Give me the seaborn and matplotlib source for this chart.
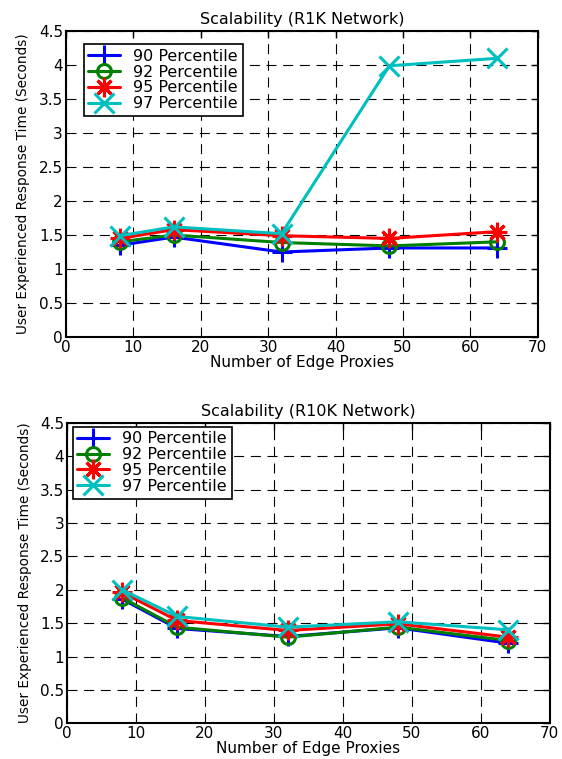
import numpy as np
import pandas as pd
import matplotlib
matplotlib.use("Agg")
import matplotlib.pyplot as plt
import seaborn as sns

# data
proxies = [8, 16, 32, 48, 64]
series_names = ["90 Percentile", "92 Percentile", "95 Percentile", "97 Percentile"]

r1k_p90 = [1.35, 1.47, 1.25, 1.31, 1.31]
r1k_p92 = [1.40, 1.50, 1.39, 1.34, 1.40]
r1k_p95 = [1.45, 1.58, 1.49, 1.45, 1.55]
r1k_p97 = [1.49, 1.62, 1.52, 3.99, 4.10]

r10k_p90 = [1.86, 1.42, 1.30, 1.43, 1.20]
r10k_p92 = [1.88, 1.44, 1.29, 1.44, 1.24]
r10k_p95 = [1.96, 1.54, 1.39, 1.49, 1.29]
r10k_p97 = [2.00, 1.60, 1.44, 1.52, 1.40]

colors = ["#0000ff", "#008000", "#ff0000", "#00bfbf"]
markers = ["+", "o", (8, 2, 0), "x"]
x_ticks = [0, 10, 20, 30, 40, 50, 60, 70]
y_ticks = [0, 0.5, 1, 1.5, 2, 2.5, 3, 3.5, 4, 4.5]
y_tick_labels = ["0", "0.5", "1", "1.5", "2", "2.5", "3", "3.5", "4", "4.5"]

sns.set_style("white")
plt.rcParams["font.family"] = ["DejaVu Sans"]
plt.rcParams["text.color"] = "black"
plt.rcParams["axes.labelcolor"] = "black"
plt.rcParams["xtick.color"] = "black"
plt.rcParams["ytick.color"] = "black"


def draw_panel(ax, values, title, legend_anchor):
    for name, vals, c, m in zip(series_names, values, colors, markers):
        df = pd.DataFrame({"x": proxies, "y": vals})
        kw = dict(color=c, marker=m, linewidth=2.2, markersize=14,
                  markeredgewidth=2.2, markeredgecolor=c, label=name)
        if m == "o":
            kw["markerfacecolor"] = "none"
            kw["markersize"] = 10
        else:
            kw["markerfacecolor"] = c
        sns.lineplot(data=df, x="x", y="y", ax=ax, **kw)

    ax.set_xlim(0, 70)
    ax.set_ylim(0, 4.5)
    ax.set_xticks(x_ticks)
    ax.set_xticklabels([str(t) for t in x_ticks], fontsize=11)
    ax.set_yticks(y_ticks)
    ax.set_yticklabels(y_tick_labels, fontsize=11)
    ax.tick_params(direction="in", top=True, right=True, length=5,
                   pad=2, width=1, colors="black")
    ax.grid(True, color="black", linestyle=(0, (9, 6)), linewidth=0.8)
    for s in ax.spines.values():
        s.set_color("black")
        s.set_linewidth(1.5)
        s.set_visible(True)
    ax.set_title(title, fontsize=11.5, pad=5, color="black")
    ax.set_xlabel("Number of Edge Proxies", fontsize=11, labelpad=0, color="black")
    ax.set_ylabel("User Experienced Response Time (Seconds)", fontsize=9.8,
                  labelpad=6, color="black")
    leg = ax.legend(loc="upper left", bbox_to_anchor=legend_anchor,
                    borderaxespad=0, fancybox=False, framealpha=1,
                    edgecolor="black", fontsize=11.5, handlelength=2.0,
                    labelspacing=0.05, borderpad=0.3, handletextpad=0.8)
    leg.get_frame().set_linewidth(1.2)
    for t in leg.get_texts():
        t.set_color("black")


fig = plt.figure(figsize=(5.62, 7.59), dpi=100)
ax1 = fig.add_axes([0.117, 0.556, 0.840, 0.403])
ax2 = fig.add_axes([0.119, 0.047, 0.859, 0.396])

draw_panel(ax1, [r1k_p90, r1k_p92, r1k_p95, r1k_p97],
           "Scalability (R1K Network)", (0.038, 0.958))
draw_panel(ax2, [r10k_p90, r10k_p92, r10k_p95, r10k_p97],
           "Scalability (R10K Network)", (0.012, 0.987))

fig.savefig("out.png", dpi=100)
